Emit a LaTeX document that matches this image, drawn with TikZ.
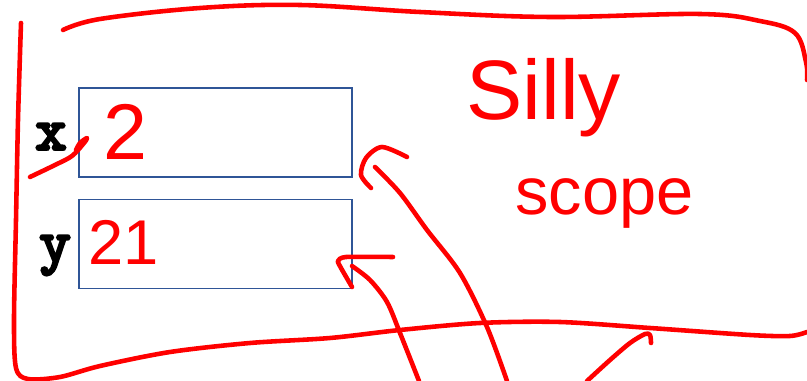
\documentclass[tikz,border=0pt]{standalone}
\usepackage{fontspec}
\newfontfamily\inkfont{Liberation Sans}
\newfontfamily\codefont{lmmonolt10-bold.otf}[FakeBold=3]
\usepackage{xcolor}
\usetikzlibrary{positioning}
\definecolor{boxblue}{RGB}{47,85,151}
\definecolor{inkred}{RGB}{255,0,0}

\begin{document}
\begin{tikzpicture}[x=0.02cm,y=-0.02cm,
  varbox/.style={draw=boxblue,line width=1.1pt,minimum width=5.46cm,minimum height=1.78cm,inner sep=0pt},
  varname/.style={font=\codefont\fontsize{35}{35}\selectfont,inner sep=0pt,anchor=base},
  ink/.style={draw=inkred,line width=2.6pt,line cap=round,line join=round},
  inktext/.style={text=inkred,font=\inkfont\fontsize{#1}{#1}\selectfont,inner sep=0pt,anchor=base west}]
\useasboundingbox (0,0) rectangle (807,381);

\node[varbox] (xbox) at (215.5,132.5) {};
\node[varbox] (ybox) at (215.5,244) {};
\node[varname] (xname) at (51,150) {x};
\node[varname] (yname) at (55,262) {y};

\node[inktext=45] (xval) at (103,160) {2};
\node[inktext=36] (yval) at (88,265) {21};
\node[inktext=48] (silly) at (466,120) {Silly};
\node[inktext=38] (scope) at (515,215) {scope};

\coordinate (xtip) at (375,167);
\coordinate (ytip) at (352,266);
\coordinate (xfrom) at (507,381);
\coordinate (yfrom) at (419,381);
\coordinate (exitfrom) at (587,381);

% the scope
\draw[ink] plot[smooth,tension=0.6] coordinates {(63,30) (100,19) (200,8) (300,5) (420,12) (550,17) (700,14) (760,21) (795,33) (806,62) (807,80)};
\draw[ink] plot[smooth,tension=0.5] coordinates {(21,23) (18,120) (16,220) (14,320) (16,368) (28,379) (60,377) (100,366) (170,352) (250,343) (330,338) (400,330) (480,323) (560,322) (650,328) (750,335) (790,336) (807,332)};

% arrows
\draw[ink] plot[smooth,tension=0.5] coordinates {(yfrom) (400,333) (387,302) (370,280) (ytip)};
\draw[ink] plot[smooth,tension=0.4] coordinates {(352,287) (341,268) (338,261) (346,257) (393,257)};
\draw[ink] plot[smooth,tension=0.5] coordinates {(xfrom) (487,327) (460,273) (427,230) (400,193) (xtip)};
\draw[ink] plot[smooth,tension=0.5] coordinates {(371,188) (361,175) (366,158) (382,147) (407,157)};
\draw[ink] plot[smooth,tension=0.5] coordinates {(exitfrom) (610,360) (630,343) (645,334) (650,335) (651,343)};

% mark at x
\draw[ink] plot[smooth,tension=0.5] coordinates {(30,177) (55,165) (72,156) (84,143) (87,138) (80,143) (76,150)};
\end{tikzpicture}
\end{document}
